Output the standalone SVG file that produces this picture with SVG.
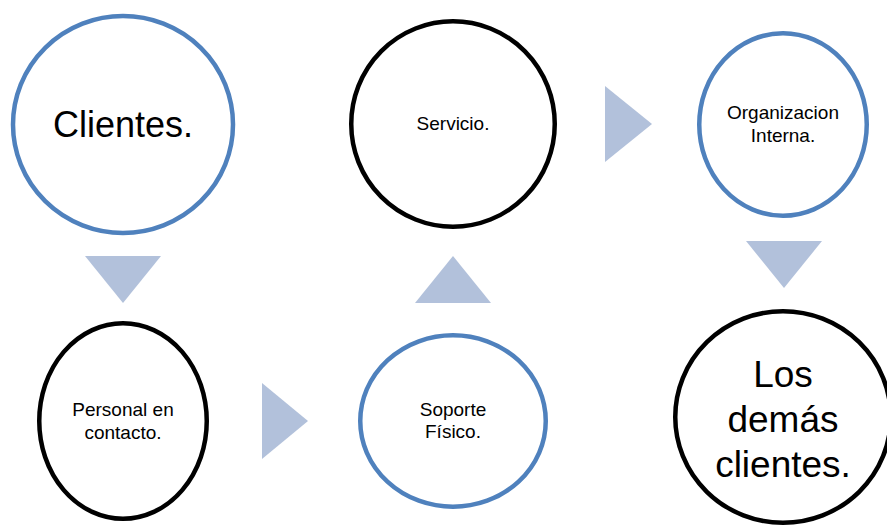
<svg xmlns="http://www.w3.org/2000/svg" width="887" height="527" viewBox="0 0 887 527">
  <style>
    .ring { fill: #ffffff; stroke-width: 4.5; }
    .blue { stroke: #4f81bd; }
    .dark { stroke: #000000; }
    .arrow { fill: #b2c1db; stroke: none; }
    text { font-family: "Liberation Sans", Arial, sans-serif; fill: #000000; text-anchor: middle; }
    .small { font-size: 19px; }
    .big { font-size: 36px; }
  </style>
  <rect x="0" y="0" width="887" height="527" fill="#ffffff"/>

  <!-- flow arrows between the stages -->
  <g id="connectors">
    <polygon class="arrow" points="85,256 161,256 123,303"/>
    <polygon class="arrow" points="262,383 262,459 308,421"/>
    <polygon class="arrow" points="415,303 491,303 453,256"/>
    <polygon class="arrow" points="605,86 605,162 652,124"/>
    <polygon class="arrow" points="746,241 822,241 784,288"/>
  </g>

  <g id="clientes">
    <ellipse class="ring blue" cx="123" cy="124.5" rx="110" ry="108.5"/>
    <text class="big" x="123" y="137">Clientes.</text>
  </g>

  <g id="personal">
    <ellipse class="ring dark" cx="123" cy="421" rx="83.75" ry="97.75"/>
    <text class="small" x="123" y="416">Personal en</text>
    <text class="small" x="123" y="439">contacto.</text>
  </g>

  <g id="servicio">
    <ellipse class="ring dark" cx="453" cy="124" rx="101.75" ry="102.75"/>
    <text class="small" x="453" y="130">Servicio.</text>
  </g>

  <g id="soporte">
    <ellipse class="ring blue" cx="453" cy="421" rx="92.75" ry="85.75"/>
    <text class="small" x="453" y="416">Soporte</text>
    <text class="small" x="453" y="438">Físico.</text>
  </g>

  <g id="organizacion">
    <ellipse class="ring blue" cx="783" cy="124.5" rx="83.75" ry="91.25"/>
    <text class="small" x="783" y="119">Organizacion</text>
    <text class="small" x="783" y="142">Interna.</text>
  </g>

  <g id="demas-clientes">
    <ellipse class="ring dark" cx="783" cy="417" rx="107.75" ry="105.75"/>
    <text class="big" x="783" y="387" style="font-size:37px">Los</text>
    <text class="big" x="783" y="432" style="font-size:37px">demás</text>
    <text class="big" x="783" y="477" style="font-size:37px">clientes.</text>
  </g>
</svg>
